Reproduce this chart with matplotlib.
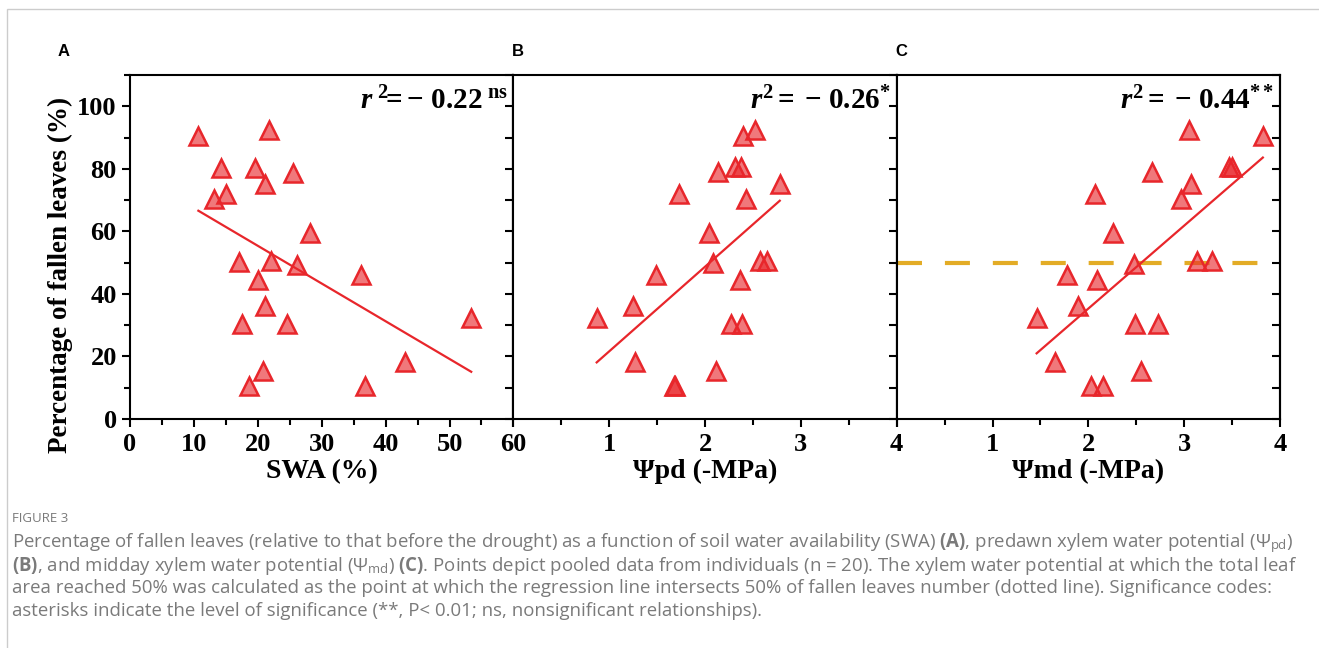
import matplotlib
matplotlib.use("Agg")
import matplotlib.pyplot as plt
from matplotlib.ticker import MultipleLocator
from matplotlib.patches import Rectangle

# mathtext: serif bold for the r^2 labels, sans for caption bits
plt.rcParams['mathtext.fontset'] = 'custom'
plt.rcParams['mathtext.rm'] = 'Liberation Serif:bold'
plt.rcParams['mathtext.it'] = 'Liberation Serif:italic:bold'
plt.rcParams['mathtext.bf'] = 'Open Sans:bold'
plt.rcParams['mathtext.sf'] = 'Open Sans'

# ---- data ----
swa = [10.7, 21.75, 14.2, 19.6, 25.5, 21.1, 13.2, 15.1, 28.1, 17.1, 22.1,
       26.1, 20.1, 36.1, 21.1, 17.6, 24.5, 53.3, 43.0, 20.8, 18.7, 36.8]
swa_fall = [90.5, 92.3, 80.3, 80.3, 78.8, 75.3, 70.5, 71.9, 59.5, 50.3, 50.5,
            49.4, 44.4, 45.9, 36.2, 30.4, 30.4, 32.2, 18.1, 15.4, 10.5, 10.5]
swa_fit_x = [10.7, 53.4]
swa_fit_y = [66.6, 15.1]

psi_pd = [2.52, 2.40, 2.14, 2.31, 2.38, 2.78, 1.73, 2.43, 2.04, 2.08, 2.57,
          2.65, 1.49, 2.36, 1.25, 0.87, 2.27, 2.39, 1.27, 2.11, 1.69, 1.68]
pd_fall = [92.5, 90.4, 79.0, 80.5, 80.5, 75.3, 71.9, 70.5, 59.5, 49.9, 50.6,
           50.6, 45.9, 44.4, 36.2, 32.2, 30.4, 30.4, 18.1, 15.4, 10.5, 10.5]
pd_fit_x = [0.87, 2.78]
pd_fit_y = [18.1, 69.8]

psi_md = [3.05, 3.82, 3.47, 3.50, 2.66, 3.07, 2.97, 2.07, 2.26, 2.48, 3.13,
          3.29, 1.78, 2.09, 1.89, 1.46, 2.49, 2.73, 1.65, 2.55, 2.03, 2.15]
md_fall = [92.5, 90.5, 80.5, 80.5, 79.0, 75.3, 70.5, 71.9, 59.5, 49.7, 50.6,
           50.6, 45.9, 44.4, 36.2, 32.2, 30.4, 30.4, 18.1, 15.4, 10.5, 10.5]
md_fit_x = [1.46, 3.82]
md_fit_y = [21.0, 83.6]
md_half_x = [0, 3.80]
md_half_y = [50, 50]

swa_ticks = [0, 10, 20, 30, 40, 50, 60]
psi_ticks = [0, 1, 2, 3, 4]
psi_ticklabels = ['', '1', '2', '3', '4']
y_ticks = [0, 20, 40, 60, 80, 100]

panels = [
    ('A', swa, swa_fall, swa_fit_x, swa_fit_y, 'SWA (%)', 60, swa_ticks,
     [str(t) for t in swa_ticks], 5,
     r'$\mathit{r}^{\ 2}\!\!=-\ 0.22^{\ \mathrm{ns}}$'),
    ('B', psi_pd, pd_fall, pd_fit_x, pd_fit_y, 'Ψpd (-MPa)', 4, psi_ticks,
     psi_ticklabels, 0.5, r'$\mathit{r}^{2}=\:-\ 0.26^{*}$'),
    ('C', psi_md, md_fall, md_fit_x, md_fit_y, 'Ψmd (-MPa)', 4, psi_ticks,
     psi_ticklabels, 0.5, r'$\mathit{r}^{2}=\:-\ 0.44^{**}$'),
]

red = '#E8262B'
serif = 'Liberation Serif'

fig = plt.figure(figsize=(13.19, 6.48), dpi=100)
fig.patches.append(Rectangle((7 / 1319, -0.1), 1.2, 1 - 9 / 648 + 0.1,
                             transform=fig.transFigure, fill=False,
                             edgecolor='#cccccc', lw=1))

lefts = [130 / 1319, 513.3 / 1319, 896.7 / 1319]
for i, (tag, xs, ys, fx, fy, xlabel, xmax, xt, xtl, xmin, rtxt) in enumerate(panels):
    ax = fig.add_axes([lefts[i], 1 - 419 / 648, 383.4 / 1319, 344 / 648])

    if tag == 'C':
        ax.plot(md_half_x, md_half_y, color='#E3AC26', lw=3, dashes=(6, 5.5),
                zorder=1)
    ax.plot(fx, fy, color=red, lw=1.6, zorder=2)
    ax.plot(xs, ys, linestyle='none', marker='^', markersize=13,
            markerfacecolor=(0.91, 0.15, 0.17, 0.62), markeredgecolor=red,
            markeredgewidth=1.8, zorder=3)

    for s in ax.spines.values():
        s.set_linewidth(1.5)

    ax.set_xticks(xt)
    ax.set_xticklabels(xtl, fontfamily=serif, fontweight='bold', fontsize=19)
    ax.xaxis.set_minor_locator(MultipleLocator(xmin))
    ax.set_yticks(y_ticks)
    ax.set_yticklabels([str(t) for t in y_ticks], fontfamily=serif,
                       fontweight='bold', fontsize=19)
    ax.yaxis.set_minor_locator(MultipleLocator(10))
    ax.set_xlim(0, xmax)
    ax.set_ylim(0, 110)
    ax.tick_params(axis='x', which='major', direction='out', length=6, width=1.5,
                   pad=4)
    ax.tick_params(axis='x', which='minor', direction='out', length=4, width=1.5)
    ax.tick_params(axis='y', which='major', direction='out', length=6, width=1.5,
                   left=(tag == 'A'), labelleft=(tag == 'A'))
    ax.tick_params(axis='y', which='minor', direction='out', length=4, width=1.5,
                   left=(tag == 'A'))

    # inward ticks on the right spine
    sec = ax.secondary_yaxis('right')
    sec.set_yticks(y_ticks)
    sec.set_yticklabels([])
    sec.yaxis.set_minor_locator(MultipleLocator(10))
    sec.tick_params(which='major', direction='in', length=6, width=1.5)
    sec.tick_params(which='minor', direction='in', length=6, width=1.5)
    sec.spines['right'].set_linewidth(1.5)

    ax.set_xlabel(xlabel, fontfamily=serif, fontweight='bold', fontsize=20,
                  labelpad=2)
    ax.text(0.985, 0.925, rtxt, transform=ax.transAxes, ha='right', va='center',
            fontsize=21, clip_on=False)
    fig.text(lefts[i] - 72 / 1319 if tag == 'A' else lefts[i] - 1 / 1319,
             1 - 52 / 648, tag, fontfamily='Liberation Sans', fontweight='bold',
             fontsize=12, ha='left', va='center')

fig.text(60 / 1319, 1 - 275 / 648, 'Percentage of fallen leaves (%)',
         rotation=90, ha='center', va='center', fontfamily=serif,
         fontweight='bold', fontsize=19.5)

# caption
gray = '#7a7a7a'
cap = dict(fontfamily='Open Sans', fontsize=13.45, color=gray, ha='left',
           va='center')
fig.text(12 / 1319, 1 - 518 / 648, 'FIGURE 3', fontfamily='Open Sans',
         fontsize=9.5, color=gray, ha='left', va='center')
lines = [
    r'Percentage of fallen leaves (relative to that before the drought) as a function of soil water availability (SWA) $\mathbf{(A)}$, predawn xylem water potential (Ψ$_{\mathsf{pd}}$)',
    r'$\mathbf{(B)}$, and midday xylem water potential (Ψ$_{\mathsf{md}}$) $\mathbf{(C)}$. Points depict pooled data from individuals (n = 20). The xylem water potential at which the total leaf',
    'area reached 50% was calculated as the point at which the regression line intersects 50% of fallen leaves number (dotted line). Significance codes:',
    'asterisks indicate the level of significance (**, P< 0.01; ns, nonsignificant relationships).',
]
for k, t in enumerate(lines):
    fig.text(12 / 1319, 1 - (543 + 22.7 * k) / 648, t, **cap)

fig.savefig('out.png', dpi=100)
